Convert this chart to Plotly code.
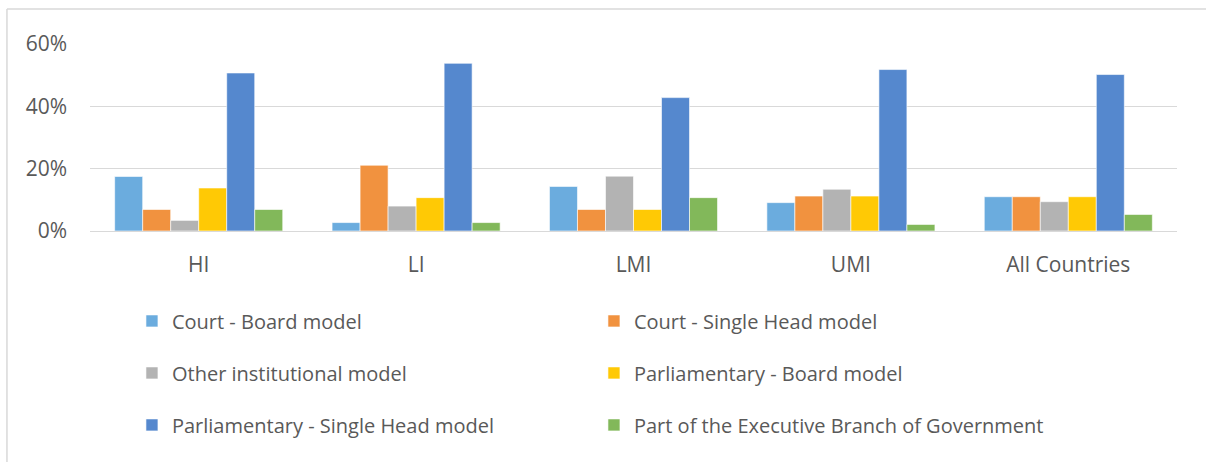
import plotly.graph_objects as go

# ---------------------------------------------------------------- data
groups = ["HI", "LI", "LMI", "UMI", "All Countries"]

court_board = [0.175, 0.027, 0.143, 0.091, 0.110]
court_single = [0.069, 0.211, 0.069, 0.112, 0.110]
other_inst = [0.034, 0.080, 0.176, 0.134, 0.094]
parl_board = [0.138, 0.107, 0.069, 0.112, 0.110]
parl_single = [0.507, 0.538, 0.428, 0.518, 0.502]
executive = [0.069, 0.027, 0.107, 0.021, 0.053]

series_names = [
    "Court - Board model",
    "Court - Single Head model",
    "Other institutional model",
    "Parliamentary - Board model",
    "Parliamentary - Single Head model",
    "Part of the Executive Branch of Government",
]
series_values = [court_board, court_single, other_inst, parl_board, parl_single, executive]
colors = ["#6BACDE", "#F1923F", "#B3B3B3", "#FFC905", "#5588CE", "#82B85A"]

y_ticks = [0, 0.2, 0.4, 0.6]
y_tick_labels = ["0%", "20%", "40%", "60%"]

# ---------------------------------------------------------------- figure
FONT = "'Open Sans', Lato, sans-serif"
TEXT = "#595959"
# two legend entries per row -> one legend object per row
legend_ids = ["legend", "legend", "legend2", "legend2", "legend3", "legend3"]

fig = go.Figure()
for name, vals, col, lg in zip(series_names, series_values, colors, legend_ids):
    fig.add_trace(go.Bar(
        x=groups, y=vals, name=name, legend=lg,
        marker=dict(color=col, line=dict(color="white", width=0.6)),
    ))

# plot area: x 90..1177, y 44..231 (px)
def legend_row(y):
    return dict(
        orientation="h", x=0.0386, y=y, xanchor="left", yanchor="middle",
        entrywidth=417, entrywidthmode="pixels", itemwidth=30,
        font=dict(family=FONT, size=20, color=TEXT),
        bgcolor="rgba(0,0,0,0)", traceorder="normal",
    )

fig.update_layout(
    width=1206, height=462,
    margin=dict(l=90, r=29, t=44, b=231),
    paper_bgcolor="white", plot_bgcolor="white",
    font=dict(family=FONT, size=20, color=TEXT),
    barmode="group", bargap=0.227, bargroupgap=0,
    legend=legend_row(-0.481),
    legend2=legend_row(-0.759),
    legend3=legend_row(-1.037),
    xaxis=dict(showgrid=False, showline=False, ticks="", ticklabelstandoff=19,
               tickfont=dict(family=FONT, size=21, color=TEXT)),
    yaxis=dict(range=[0, 0.6], tickvals=y_ticks, ticktext=y_tick_labels,
               showgrid=True, gridcolor="#D9D9D9", gridwidth=1,
               zeroline=True, zerolinecolor="#D9D9D9", zerolinewidth=1,
               showline=False, ticks="", ticklabelstandoff=22,
               tickfont=dict(family=FONT, size=21, color=TEXT)),
    shapes=[
        dict(type="line", xref="paper", yref="paper", x0=-0.0764, x1=1.03,
             y0=1.187, y1=1.187, line=dict(color="#D9D9D9", width=1.5)),
        dict(type="line", xref="paper", yref="paper", x0=-0.0764, x1=-0.0764,
             y0=1.187, y1=-1.3, line=dict(color="#D9D9D9", width=1.5)),
    ],
)

# drop the browser's default body margin so the figure sits at (0, 0)
fig.write_html("out.html", config={"displayModeBar": False},
               post_script="document.body.style.margin='0';")
